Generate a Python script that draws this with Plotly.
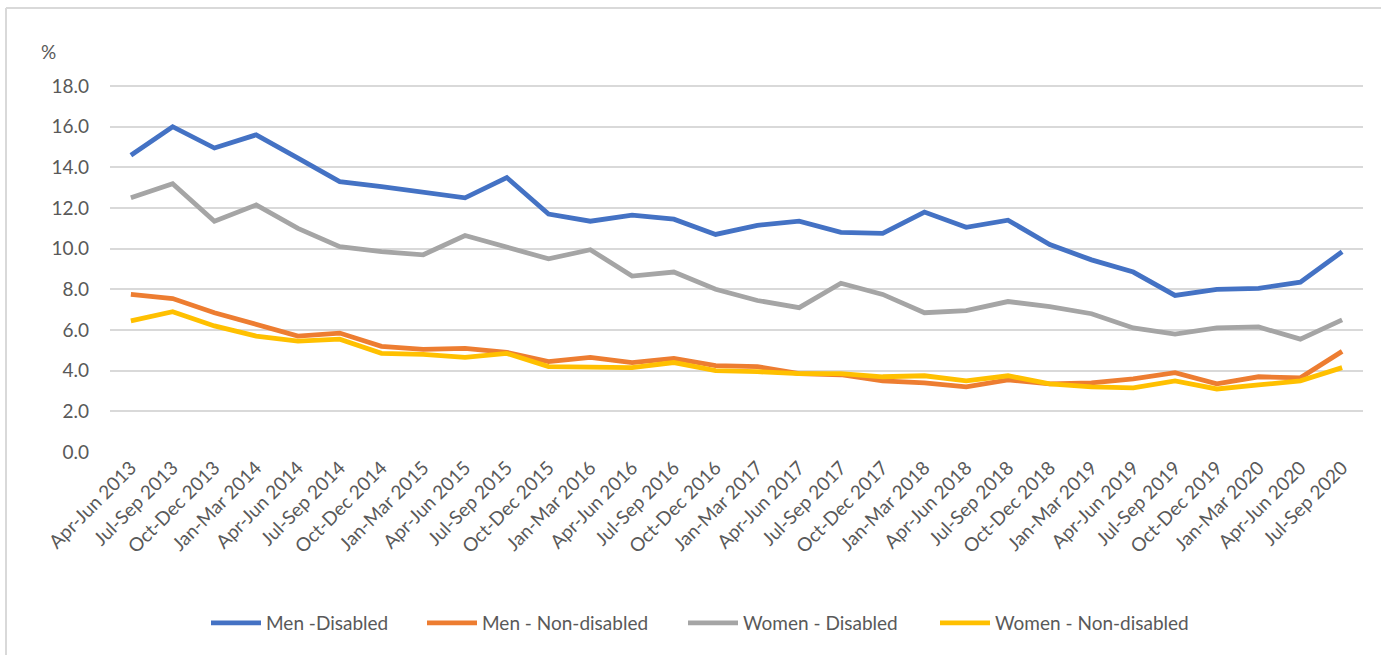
import plotly.graph_objects as go

quarters = ["Apr-Jun 2013", "Jul-Sep 2013", "Oct-Dec 2013", "Jan-Mar 2014", "Apr-Jun 2014",
            "Jul-Sep 2014", "Oct-Dec 2014", "Jan-Mar 2015", "Apr-Jun 2015", "Jul-Sep 2015",
            "Oct-Dec 2015", "Jan-Mar 2016", "Apr-Jun 2016", "Jul-Sep 2016", "Oct-Dec 2016",
            "Jan-Mar 2017", "Apr-Jun 2017", "Jul-Sep 2017", "Oct-Dec 2017", "Jan-Mar 2018",
            "Apr-Jun 2018", "Jul-Sep 2018", "Oct-Dec 2018", "Jan-Mar 2019", "Apr-Jun 2019",
            "Jul-Sep 2019", "Oct-Dec 2019", "Jan-Mar 2020", "Apr-Jun 2020", "Jul-Sep 2020"]

men_disabled = [14.6, 16.0, 14.95, 15.6, 14.45, 13.3, 13.05, 12.75, 12.5, 13.5,
                11.7, 11.35, 11.65, 11.45, 10.7, 11.15, 11.35, 10.8, 10.75, 11.8,
                11.05, 11.4, 10.2, 9.45, 8.85, 7.7, 8.0, 8.05, 8.35, 9.85]
men_nondisabled = [7.75, 7.55, 6.85, 6.3, 5.7, 5.85, 5.2, 5.05, 5.1, 4.9,
                   4.45, 4.65, 4.4, 4.6, 4.25, 4.2, 3.85, 3.8, 3.5, 3.4,
                   3.2, 3.55, 3.35, 3.4, 3.6, 3.9, 3.35, 3.7, 3.65, 4.95]
women_disabled = [12.5, 13.2, 11.35, 12.15, 11.0, 10.1, 9.85, 9.7, 10.65, 10.05,
                  9.5, 9.95, 8.65, 8.85, 8.0, 7.45, 7.1, 8.3, 7.75, 6.85,
                  6.95, 7.4, 7.15, 6.8, 6.1, 5.8, 6.1, 6.15, 5.55, 6.5]
women_nondisabled = [6.45, 6.9, 6.2, 5.7, 5.45, 5.55, 4.85, 4.8, 4.65, 4.85,
                     4.2, 4.2, 4.15, 4.4, 4.0, 3.95, 3.85, 3.85, 3.7, 3.75,
                     3.5, 3.75, 3.35, 3.2, 3.15, 3.5, 3.1, 3.3, 3.5, 4.15]

series_names = ["Men -Disabled", "Men - Non-disabled", "Women - Disabled", "Women - Non-disabled"]
series_values = [men_disabled, men_nondisabled, women_disabled, women_nondisabled]
colors = ["#4472C4", "#ED7D31", "#A5A5A5", "#FFC000"]
legend_px = [214, 430, 691, 943]   # left pixel of each legend entry

FONT = "Lato, 'Open Sans', sans-serif"
TXT = "#595959"
L, R, T, B, W, H = 110, 18, 85, 203, 1381, 655
PW, PH = W - L - R, H - T - B

def px_x(p):
    return (p - L) / PW

def px_y(p):
    return (H - B - p) / PH

fig = go.Figure()
legend_ids = ["legend", "legend2", "legend3", "legend4"]
for name, vals, c, lid in zip(series_names, series_values, colors, legend_ids):
    fig.add_trace(go.Scatter(x=quarters, y=vals, name=name, mode="lines",
                             line=dict(color=c, width=4.8), legend=lid))

leg_common = dict(orientation="h", yanchor="middle", y=px_y(623), xanchor="left",
                  font=dict(family=FONT, size=19, color=TXT), itemwidth=50,
                  bgcolor="rgba(0,0,0,0)")
legends = {lid: dict(leg_common, x=px_x(p - 8)) for lid, p in zip(legend_ids, legend_px)}

border = dict(color="#D9D9D9", width=2)

fig.update_layout(
    width=W, height=H,
    margin=dict(l=L, r=R, t=T, b=B),
    paper_bgcolor="white", plot_bgcolor="white",
    font=dict(family=FONT, color=TXT, size=16),
    showlegend=True,
    **legends,
    xaxis=dict(type="category", range=[-0.5, 29.5], tickangle=-45, showgrid=False,
               zeroline=False, showline=False, ticks="", automargin=False,
               tickfont=dict(family=FONT, size=19, color=TXT)),
    yaxis=dict(range=[0, 18.05], tickvals=[0, 2, 4, 6, 8, 10, 12, 14, 16, 18],
               tickformat=".1f", showgrid=True, gridcolor="#D9D9D9", gridwidth=1.5,
               zeroline=False, showline=False, ticks="", ticklabelstandoff=20,
               automargin=False,
               tickfont=dict(family=FONT, size=19, color=TXT)),
    annotations=[dict(text="%", xref="paper", yref="paper", x=px_x(48),
                      y=px_y(52), xanchor="center", yanchor="middle",
                      showarrow=False, font=dict(family=FONT, size=19, color=TXT))],
    shapes=[dict(type="line", xref="paper", yref="paper",
                 x0=px_x(6), x1=px_x(1381), y0=px_y(8), y1=px_y(8),
                 line=border, layer="below"),
            dict(type="line", xref="paper", yref="paper",
                 x0=px_x(6), x1=px_x(6), y0=px_y(8), y1=px_y(655),
                 line=border, layer="below")],
)

fig.write_html("out.html", config={"displayModeBar": False},
               post_script="document.body.style.margin='0';")
